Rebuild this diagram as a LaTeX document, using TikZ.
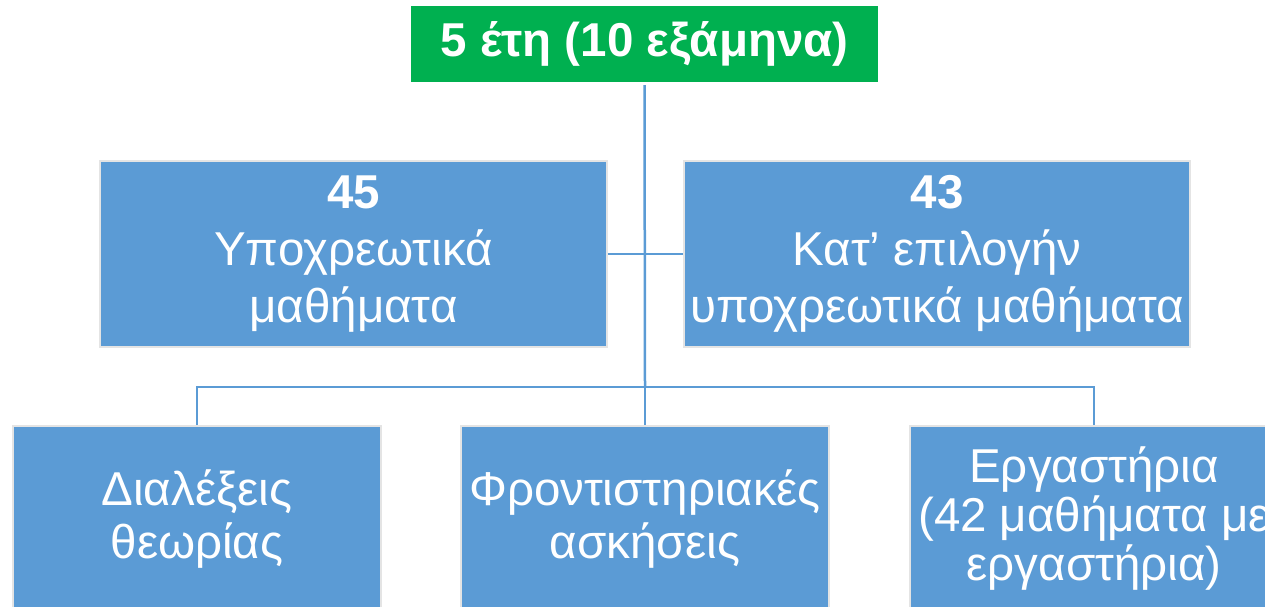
\documentclass[tikz,border=0pt]{standalone}
\usepackage{fontspec}
\setmainfont{Liberation Sans}
\definecolor{boxblue}{HTML}{5B9BD5}
\definecolor{boxgreen}{HTML}{00B050}
\definecolor{edgegrey}{HTML}{E4E4E4}
\begin{document}
\begin{tikzpicture}[x=1pt,y=-1pt,
  bluebox/.style={fill=boxblue, draw=edgegrey, line width=1.5pt, text=white, align=center, inner sep=0pt, font=\fontsize{47.5}{57}\selectfont},
  greenbox/.style={fill=boxgreen, draw=none, text=white, align=center, inner sep=0pt, font=\fontsize{47.5}{57}\selectfont\bfseries},
  conn/.style={draw=boxblue, line width=2.5pt}]
\useasboundingbox (0,0) rectangle (1265,606);
\clip (0,0) rectangle (1265,606);
\node[greenbox, minimum width=467pt, minimum height=76pt] (top) at (644.5,44) {5 έτη (10 εξάμηνα)};
\node[bluebox, minimum width=507pt, minimum height=186pt] (l45) at (353.5,254) {\textbf{45}\\Υποχρεωτικά\\μαθήματα};
\node[bluebox, minimum width=506pt, minimum height=186pt] (r43) at (937,254) {\textbf{43}\\Κατ’ επιλογήν\\υποχρεωτικά μαθήματα};
\node[bluebox, minimum width=368pt, minimum height=186pt, font=\fontsize{47.5}{53}\selectfont] (b1) at (197,519) {Διαλέξεις\\θεωρίας};
\node[bluebox, minimum width=368pt, minimum height=186pt, font=\fontsize{47.5}{53}\selectfont] (b2) at (645,519) {Φροντιστηριακές\\ασκήσεις};
\node[bluebox, minimum width=368pt, minimum height=186pt, font=\fontsize{47.5}{49}\selectfont] (b3) at (1094,519) {Εργαστήρια\\(42 μαθήματα με\\εργαστήρια)};
\coordinate (j) at (645,387);
\draw[conn] ([yshift=-3pt]top.south) -- (j);
\draw[conn] (l45.east) -- (r43.west);
\draw[conn] (j) -| (b1.north);
\draw[conn] (j) -| (b3.north);
\draw[conn] (j) -- (b2.north);
\end{tikzpicture}
\end{document}
